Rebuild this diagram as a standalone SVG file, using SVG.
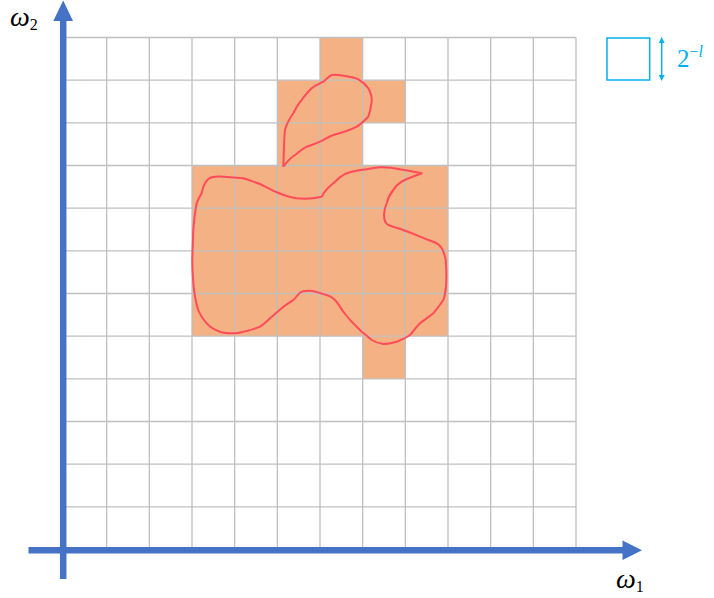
<svg xmlns="http://www.w3.org/2000/svg" width="714" height="598" viewBox="0 0 714 598">
<style>
.cell{fill:#F4B183}
.grid line{stroke:#BFBFBF;stroke-width:1.3}
.axis{stroke:#4472C4;stroke-width:6.5;fill:none}
.head{fill:#4472C4}
.curve{fill:none;stroke:#FF4B5A;stroke-width:2;stroke-linejoin:round}
.lbl{font-family:"Liberation Serif","DejaVu Serif",serif;font-style:italic;fill:#000}
.leg{font-family:"Liberation Serif","DejaVu Serif",serif;fill:#00B0F0}
</style>
<defs>
<marker id="ah" viewBox="0 0 10 10" refX="5" refY="5" markerWidth="4" markerHeight="4" orient="auto-start-reverse">
<path d="M0,0 L10,5 L0,10 z" fill="#00B0F0"/>
</marker>
</defs>
<rect width="714" height="598" fill="#fff"/>
<g id="region">
<rect class="cell" x="320" y="37.5" width="42.67" height="42.67"/>
<rect class="cell" x="277.33" y="80.17" width="128" height="42.67"/>
<rect class="cell" x="277.33" y="122.83" width="85.33" height="42.67"/>
<rect class="cell" x="192" y="165.5" width="256" height="170.67"/>
<rect class="cell" x="362.67" y="336.17" width="42.67" height="42.67"/>
</g>
<g id="grid" class="grid">
<line x1="64" y1="37.5" x2="576" y2="37.5"/>
<line x1="64" y1="80.17" x2="576" y2="80.17"/>
<line x1="64" y1="122.83" x2="576" y2="122.83"/>
<line x1="64" y1="165.5" x2="576" y2="165.5"/>
<line x1="64" y1="208.17" x2="576" y2="208.17"/>
<line x1="64" y1="250.83" x2="576" y2="250.83"/>
<line x1="64" y1="293.5" x2="576" y2="293.5"/>
<line x1="64" y1="336.17" x2="576" y2="336.17"/>
<line x1="64" y1="378.83" x2="576" y2="378.83"/>
<line x1="64" y1="421.5" x2="576" y2="421.5"/>
<line x1="64" y1="464.17" x2="576" y2="464.17"/>
<line x1="64" y1="506.83" x2="576" y2="506.83"/>
<line x1="64" y1="37.5" x2="64" y2="549.5"/>
<line x1="106.67" y1="37.5" x2="106.67" y2="549.5"/>
<line x1="149.33" y1="37.5" x2="149.33" y2="549.5"/>
<line x1="192" y1="37.5" x2="192" y2="549.5"/>
<line x1="234.67" y1="37.5" x2="234.67" y2="549.5"/>
<line x1="277.33" y1="37.5" x2="277.33" y2="549.5"/>
<line x1="320" y1="37.5" x2="320" y2="549.5"/>
<line x1="362.67" y1="37.5" x2="362.67" y2="549.5"/>
<line x1="405.33" y1="37.5" x2="405.33" y2="549.5"/>
<line x1="448" y1="37.5" x2="448" y2="549.5"/>
<line x1="490.67" y1="37.5" x2="490.67" y2="549.5"/>
<line x1="533.33" y1="37.5" x2="533.33" y2="549.5"/>
<line x1="576" y1="37.5" x2="576" y2="549.5"/>
</g>
<g id="curves">
<path class="curve" d="M283.3,166.7 C284,150 284,138 285,130 C287,122 290,118 293.3,113.3 C296,108 298,104 301.7,100 C305,95 308,92 311.7,88.3 C315,85 319,84 323.3,81.7 C327,79 329,76 331.7,75 C336,74 339,75 343.3,75.7 C349,76.5 354,77 358.3,79.3 C363,82 366,85 368.3,88.3 C371,93 372,97 371.7,101.7 C371,107 370,112 368.3,116.7 C364,121 361,124 356.7,126.7 C349,131 341,133 333.3,135 C328,137 324,140 320,141.7 C315,144 311,145 306.7,146.7 C302,149 299,152 295,155 C290,158 286,163 283.3,166.7"/>
<path class="curve" d="M321.7,196.7 C325,190 329,187 333.3,183.3 C338,179 342,175 346.7,173.3 C353,171 360,170 366.7,169.3 C371,168.5 375,167.5 380,167.3 C387,167 394,168 400,169.3 C407,170.5 415,172 421.7,173.3 C415,176 408,178 401.7,181.7 C398,184 395,187 393.3,190 C390,194 388,198 386.7,203.3 C385,207 384,211 384,215 C384,219 385,223 388.3,225 C393,227 398,228 403.3,230 C409,232 414,234 420,236.7 C425,239 429,240 433.3,241.7 C437,243 440,245 441.7,248.3 C444,252 445,256 445.7,260 C446.5,269 446.5,278 446,286.7 C445.5,291 445,296 443.3,300 C440,305 437,309 433.3,313.3 C429,317 424,320 420,323.3 C416,327 413,332 410,335 C406,338 401,340 396.7,341.7 C392,343 388,344 383.3,344 C379,343.5 375,342 371.7,340 C368,337 365,334 361.7,331.7 C358,328 355,325 351.7,321.7 C348,318 346,315 343.3,311.7 C340,307 338,303 335,300 C332,297 330,296 326.7,295 C321,293.5 315,291 310,290.7 C306,290.5 302,291 300,292.7 C297,295 296,298 293.3,300 C289,303 285,305 281.7,308.3 C277,312 274,315 270,318.3 C267,321 264,324 260,326.7 C256,328.5 251,330 246.7,331 C242,332 238,333.3 233.3,333.3 C228,333.3 224,333 220,331.7 C215,330 210,327 206.7,323.3 C203,319 200,315 198.3,310 C196,304 195,297 194,290 C193,280 192.3,270 192.3,260 C192.5,250 193,240 193.3,230 C194,221 195,212 196.7,203.3 C198,199 200,196 201.7,193.3 C202.5,190 203,186 205,183.3 C207,180 209,178 211.7,177.3 C215,176.5 219,176.5 223.3,176.7 C230,177 237,177.5 243.3,178.3 C249,180 254,182 260,184 C266,187 271,190 276.7,192.3 C283,195 290,197.5 296.7,198.3 C305,199 314,198.5 321.7,196.7"/>
</g>
<g id="axes">
<line class="axis" x1="28.5" y1="550.3" x2="624" y2="550.3"/>
<path class="head" d="M622.5,540.5 L642,550.3 L622.5,560 z"/>
<line class="axis" x1="63.2" y1="579" x2="63.2" y2="19"/>
<path class="head" d="M53.3,21 L63.2,0.5 L73,21 z"/>
</g>
<g id="labels">
<text class="lbl" x="10" y="25.5" font-size="28">ω<tspan font-style="normal" font-size="16" dy="4">2</tspan></text>
<text class="lbl" x="616" y="587.5" font-size="28">ω<tspan font-style="normal" font-size="16" dy="4">1</tspan></text>
</g>
<g id="legend">
<rect x="607" y="38" width="42.67" height="42" fill="none" stroke="#00B0F0" stroke-width="1.5"/>
<line x1="661.7" y1="40" x2="661.7" y2="78" stroke="#00B0F0" stroke-width="1.5" marker-start="url(#ah)" marker-end="url(#ah)"/>
<text class="leg" x="677" y="67" font-size="25">2<tspan font-size="16" dy="-10">−</tspan><tspan font-size="16" font-style="italic">l</tspan></text>
</g>
</svg>
